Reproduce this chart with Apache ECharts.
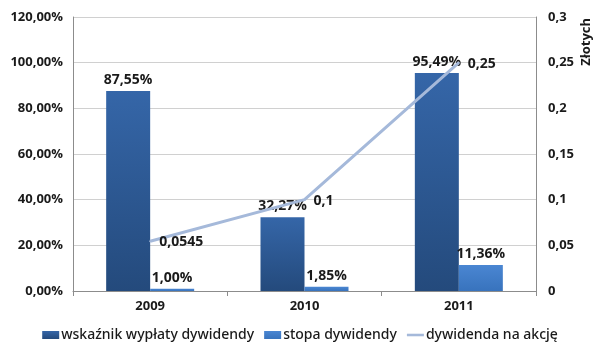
<!DOCTYPE html>
<html lang="pl">
<head>
    <meta charset="UTF-8">
    <title>dywidenda</title>
    <script src="https://cdn.jsdelivr.net/npm/echarts@6/dist/echarts.min.js"></script>
    <style>
        * { margin: 0; padding: 0; }
        html, body { width: 100%; height: 100%; background: #fff; }
    </style>
</head>
<body>
    <div id="main" style="width: 600px;height:361px;"></div>
<script>
    var years = ['2009', '2010', '2011'];
    var wskaznik = [87.55, 32.27, 95.49];   // %
    var stopa = [1.00, 1.85, 11.36];        // %
    var dywidenda = [0.0545, 0.1, 0.25];    // zł
    var leftTicks = [0, 120, 20];
    var rightTicks = [0, 0.3, 0.05];

    var txt = '#1a1a1a';
    var font = 'Open Sans';
    var lineCol = '#a5b9da';

    function pct(v) { return v.toFixed(2).replace('.', ',') + '%'; }
    function com(v) { return String(+v.toFixed(4)).replace('.', ','); }

    var myChart = echarts.init(document.getElementById('main'));
    myChart.setOption({
        animation: false,
        textStyle: { fontFamily: font },
        grid: { left: 73, right: 64, top: 17, bottom: 70 },
        legend: {
            bottom: 14,
            left: 'center',
            itemGap: 10,
            itemWidth: 17,
            itemHeight: 8,
            textStyle: { color: txt, fontSize: 14, fontWeight: 500, fontFamily: 'Noto Sans', padding: [0, 0, 0, -3] },
            data: [
                { name: 'wskaźnik wypłaty dywidendy', icon: 'rect' },
                { name: 'stopa dywidendy', icon: 'rect' },
                { name: 'dywidenda na akcję', icon: 'path://M0,0H20V3H0Z', itemStyle: { color: lineCol, opacity: 1 } }
            ]
        },
        xAxis: {
            type: 'category',
            data: years,
            axisLine: { lineStyle: { color: '#8c8c8c' } },
            axisTick: { show: true, length: 5, lineStyle: { color: '#8c8c8c' } },
            axisLabel: { color: txt, fontSize: 13, fontWeight: 'bold', margin: 9 }
        },
        yAxis: [
            {
                type: 'value',
                min: leftTicks[0], max: leftTicks[1], interval: leftTicks[2],
                axisLine: { show: true, lineStyle: { color: '#8c8c8c' } },
                axisTick: { show: false },
                splitLine: { lineStyle: { color: '#d0d0d0' } },
                axisLabel: { color: txt, fontSize: 13, fontWeight: 'bold', margin: 10, formatter: pct }
            },
            {
                type: 'value',
                min: rightTicks[0], max: rightTicks[1], interval: rightTicks[2],
                axisLine: { show: true, lineStyle: { color: '#8c8c8c' } },
                axisTick: { show: false },
                splitLine: { show: false },
                axisLabel: { color: txt, fontSize: 13, fontWeight: 'bold', margin: 12, formatter: com }
            }
        ],
        graphic: [{
            type: 'text',
            left: 580, top: 18,
            rotation: Math.PI / 2,
            style: { text: 'Złotych', fill: txt, font: 'bold 13px "Open Sans"' }
        }],
        series: [
            {
                name: 'wskaźnik wypłaty dywidendy',
                type: 'bar',
                data: wskaznik,
                barWidth: 44,
                barGap: '0%',
                itemStyle: {
                    color: new echarts.graphic.LinearGradient(0, 0, 0, 1, [
                        { offset: 0, color: '#3566a8' },
                        { offset: 1, color: '#244a7c' }
                    ])
                },
                label: { show: true, position: 'top', distance: 4, color: txt, fontSize: 14, fontWeight: 'bold', formatter: function (p) { return pct(p.value); } }
            },
            {
                name: 'stopa dywidendy',
                type: 'bar',
                data: stopa,
                barWidth: 44,
                barGap: '0%',
                itemStyle: {
                    color: new echarts.graphic.LinearGradient(0, 0, 0, 1, [
                        { offset: 0, color: '#4a86d2' },
                        { offset: 1, color: '#3873bd' }
                    ])
                },
                label: { show: true, position: 'top', distance: 4, color: txt, fontSize: 14, fontWeight: 'bold', formatter: function (p) { return pct(p.value); } }
            },
            {
                name: 'dywidenda na akcję',
                type: 'line',
                yAxisIndex: 1,
                data: dywidenda,
                symbol: 'circle',
                symbolSize: 2,
                showSymbol: true,
                lineStyle: { color: lineCol, width: 3 },
                itemStyle: { color: lineCol },
                label: {
                    show: true, position: 'right', distance: 8, offset: [0, 1],
                    color: txt, fontSize: 14, fontWeight: 'bold',
                    formatter: function (p) { return com(p.value); }
                }
            }
        ]
    });
</script>
</body>
</html>
